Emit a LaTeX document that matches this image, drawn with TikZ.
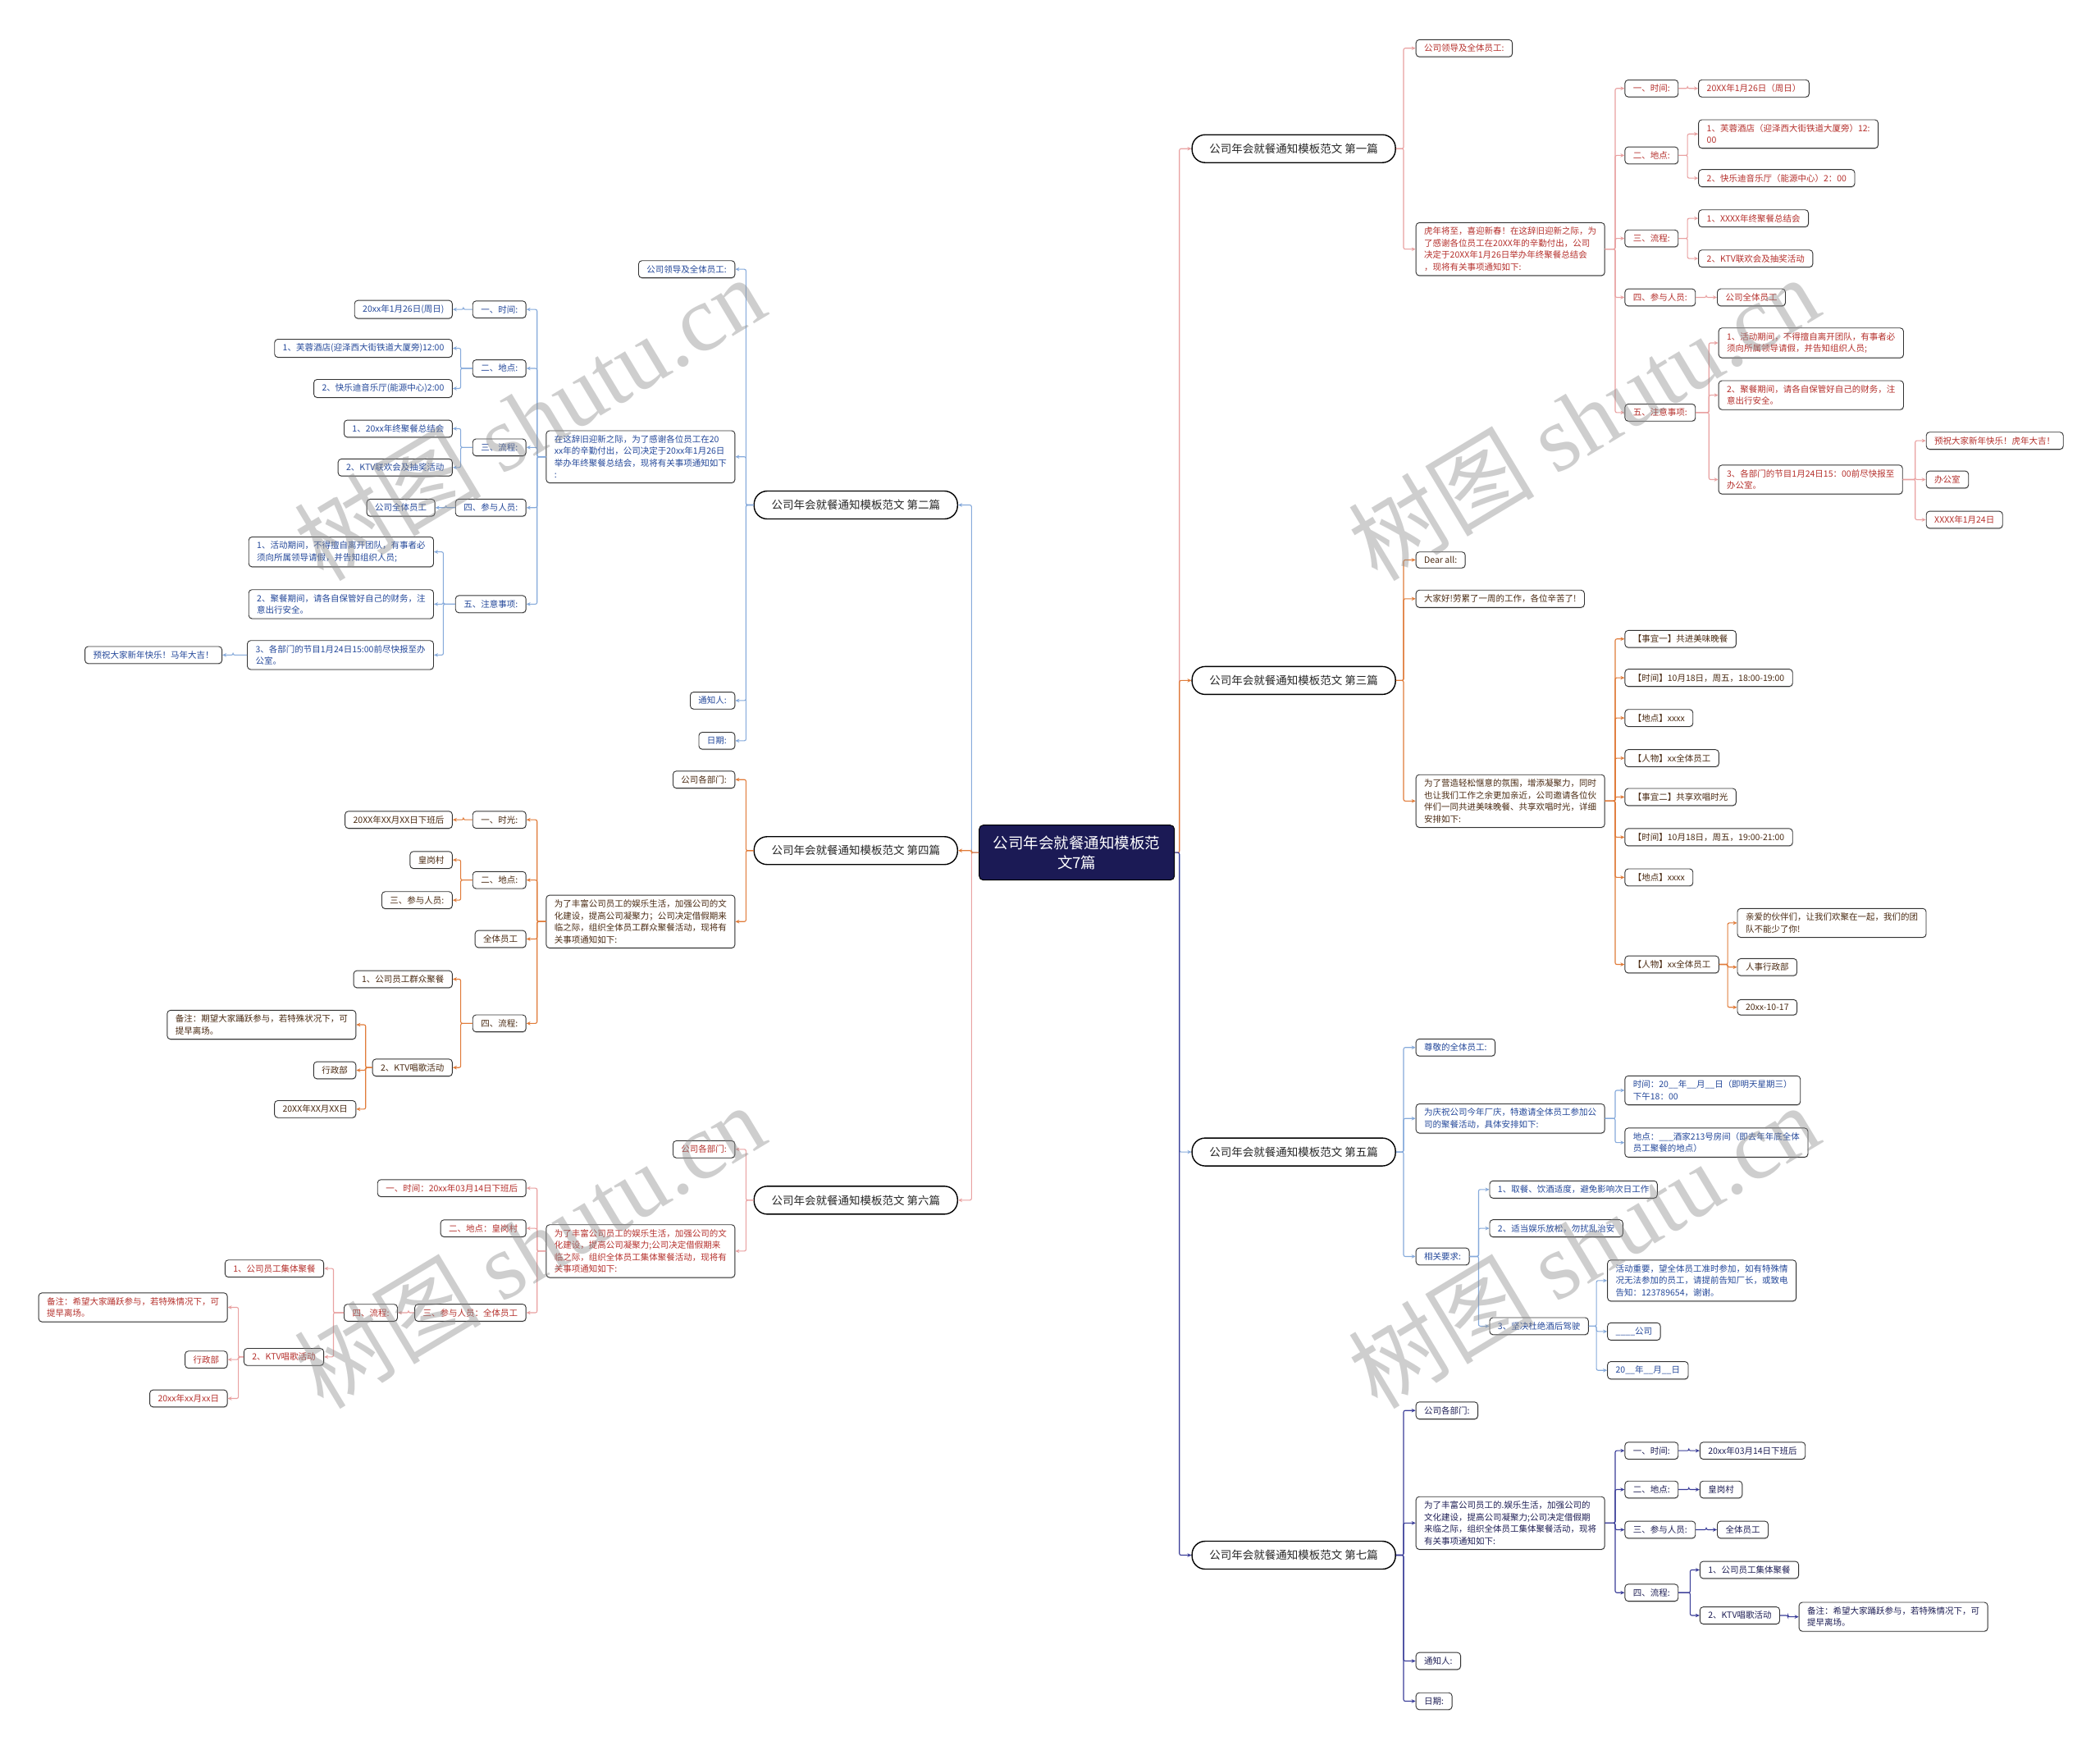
\documentclass[tikz,border=0pt]{standalone}
\usepackage{fontspec}
\setmainfont{Noto Sans CJK SC}
\newfontfamily\wmlatin{Liberation Serif}
\usetikzlibrary{arrows.meta,shadows}
\definecolor{pinkc}{HTML}{E9A1A1}
\definecolor{bluec}{HTML}{86AADB}
\definecolor{orangec}{HTML}{E07B39}
\definecolor{navyc}{HTML}{3A3D98}
\definecolor{redt}{HTML}{B5302C}
\definecolor{bluet}{HTML}{24489A}
\definecolor{brownt}{HTML}{4A2A12}
\definecolor{navyt}{HTML}{1F1F55}
\definecolor{rootfill}{HTML}{1B1A55}
\newcommand{\myconR}[4][8]{\draw[#2] (#4.west) -- ++(-#1,0) |- (#3.east);}
\newcommand{\myconL}[4][8]{\draw[#2] (#4.east) -- ++(#1,0) |- (#3.west);}
\tikzset{
  box/.style={draw=black!80, line width=0.9pt, rounded corners=4pt, fill=white,
    inner xsep=10pt, inner ysep=5.5pt, align=left,
    font=\fontsize{10.5}{14.5}\selectfont,
    drop shadow={shadow xshift=0.4pt, shadow yshift=-1.2pt, opacity=0.3}},
  nr/.style={box, text=redt},
  nb/.style={box, text=bluet},
  nbr/.style={box, text=brownt},
  nn/.style={box, text=navyt},
  lone/.style={draw=black, line width=1.4pt, rounded corners=16pt, fill=white,
    minimum width=248pt, minimum height=34pt, inner xsep=14pt,
    font=\fontsize{13.5}{16}\selectfont, text=black!85},
  rootbox/.style={draw=black, line width=1pt, rounded corners=5pt, fill=rootfill,
    minimum width=238pt, minimum height=67pt, align=center, text=white,
    font=\fontsize{18.5}{24}\selectfont},
  conn/.style={line width=1.1pt, rounded corners=2pt, {Stealth[length=5pt,width=4.5pt]}-},
  cpink/.style={conn, draw=pinkc},
  cblue/.style={conn, draw=bluec},
  corange/.style={conn, draw=orangec},
  cnavy/.style={conn, draw=navyc},
  wm/.style={rotate=31, text=black!45, opacity=0.42, font=\fontsize{114}{114}\selectfont}
}
\begin{document}
\begin{tikzpicture}[x=1.6327pt, y=-1.6327pt]
\useasboundingbox (0,0) rectangle (1568,1306);
\fill[white] (0,0) rectangle (1568,1306);

% root
\node[rootbox] (r) at (804,636.5) {公司年会就餐通知模板范\\文7篇};

% level one
\node[lone] (a1) at (966,111) {公司年会就餐通知模板范文 第一篇};
\node[lone] (a3) at (966,508) {公司年会就餐通知模板范文 第三篇};
\node[lone] (a5) at (966,860) {公司年会就餐通知模板范文 第五篇};
\node[lone] (a7) at (966,1161) {公司年会就餐通知模板范文 第七篇};
\node[lone] (b2) at (639,377) {公司年会就餐通知模板范文 第二篇};
\node[lone] (b4) at (639,635) {公司年会就餐通知模板范文 第四篇};
\node[lone] (b6) at (639,896) {公司年会就餐通知模板范文 第六篇};

% ===== branch 1 (right, pink) =====
\node[nr, anchor=west] (a1c1) at (1057,36) {公司领导及全体员工:};
\node[nr, anchor=west] (a1c2) at (1057,186) {虎年将至，喜迎新春！在这辞旧迎新之际，为\\了感谢各位员工在20XX年的辛勤付出，公司\\决定于20XX年1月26日举办年终聚餐总结会\\，现将有关事项通知如下:};
\node[nr, anchor=west] (a1d1) at (1213,66) {一、时间:};
\node[nr, anchor=west] (a1d1a) at (1268,66) {20XX年1月26日（周日）};
\node[nr, anchor=west] (a1d2) at (1213,116) {二、地点:};
\node[nr, anchor=west] (a1d2a) at (1268,100) {1、芙蓉酒店（迎泽西大街铁道大厦旁）12:\\00};
\node[nr, anchor=west] (a1d2b) at (1268,133) {2、快乐迪音乐厅（能源中心）2：00};
\node[nr, anchor=west] (a1d3) at (1213,178) {三、流程:};
\node[nr, anchor=west] (a1d3a) at (1268,163) {1、XXXX年终聚餐总结会};
\node[nr, anchor=west] (a1d3b) at (1268,193) {2、KTV联欢会及抽奖活动};
\node[nr, anchor=west] (a1d4) at (1213,222) {四、参与人员:};
\node[nr, anchor=west] (a1d4a) at (1282,222) {公司全体员工};
\node[nr, anchor=west] (a1d5) at (1213,308) {五、注意事项:};
\node[nr, anchor=west] (a1d5a) at (1283,256) {1、活动期间，不得擅自离开团队，有事者必\\须向所属领导请假，并告知组织人员;};
\node[nr, anchor=west] (a1d5b) at (1283,295) {2、聚餐期间，请各自保管好自己的财务，注\\意出行安全。};
\node[nr, anchor=west] (a1d5c) at (1283,358) {3、各部门的节目1月24日15：00前尽快报至\\办公室。};
\node[nr, anchor=west] (a1e1) at (1438,329) {预祝大家新年快乐！虎年大吉！};
\node[nr, anchor=west] (a1e2) at (1438,358) {办公室};
\node[nr, anchor=west] (a1e3) at (1438,388) {XXXX年1月24日};

% ===== branch 3 (right, orange) =====
\node[nbr, anchor=west] (a3c1) at (1057,418) {Dear all:};
\node[nbr, anchor=west] (a3c2) at (1057,447) {大家好!劳累了一周的工作，各位辛苦了!};
\node[nbr, anchor=west] (a3c3) at (1057,598) {为了营造轻松惬意的氛围，增添凝聚力，同时\\也让我们工作之余更加亲近，公司邀请各位伙\\伴们一同共进美味晚餐、共享欢唱时光，详细\\安排如下:};
\node[nbr, anchor=west] (a3d1) at (1213,477) {【事宜一】共进美味晚餐};
\node[nbr, anchor=west] (a3d2) at (1213,506) {【时间】10月18日，周五，18:00-19:00};
\node[nbr, anchor=west] (a3d3) at (1213,536) {【地点】xxxx};
\node[nbr, anchor=west] (a3d4) at (1213,566) {【人物】xx全体员工};
\node[nbr, anchor=west] (a3d5) at (1213,595) {【事宜二】共享欢唱时光};
\node[nbr, anchor=west] (a3d6) at (1213,625) {【时间】10月18日，周五，19:00-21:00};
\node[nbr, anchor=west] (a3d7) at (1213,655) {【地点】xxxx};
\node[nbr, anchor=west] (a3d8) at (1213,720) {【人物】xx全体员工};
\node[nbr, anchor=west] (a3e1) at (1297,689) {亲爱的伙伴们，让我们欢聚在一起，我们的团\\队不能少了你!};
\node[nbr, anchor=west] (a3e2) at (1297,722) {人事行政部};
\node[nbr, anchor=west] (a3e3) at (1297,752) {20xx-10-17};

% ===== branch 5 (right, light blue) =====
\node[nb, anchor=west] (a5c1) at (1057,782) {尊敬的全体员工:};
\node[nb, anchor=west] (a5c2) at (1057,835) {为庆祝公司今年厂庆，特邀请全体员工参加公\\司的聚餐活动，具体安排如下:};
\node[nb, anchor=west] (a5c3) at (1057,938) {相关要求:};
\node[nb, anchor=west] (a5d1) at (1213,814) {时间：20\_\_年\_\_月\_\_日（即明天星期三）\\下午18：00};
\node[nb, anchor=west] (a5d2) at (1213,853) {地点：\_\_\_酒家213号房间（即去年年底全体\\员工聚餐的地点）};
\node[nb, anchor=west] (a5f1) at (1112,888) {1、取餐、饮酒适度，避免影响次日工作};
\node[nb, anchor=west] (a5f2) at (1112,917) {2、适当娱乐放松，勿扰乱治安};
\node[nb, anchor=west] (a5f3) at (1112,990) {3、坚决杜绝酒后驾驶};
\node[nb, anchor=west] (a5g1) at (1200,956) {活动重要，望全体员工准时参加，如有特殊情\\况无法参加的员工，请提前告知厂长，或致电\\告知：123789654，谢谢。};
\node[nb, anchor=west] (a5g2) at (1200,994) {\_\_\_\_公司};
\node[nb, anchor=west] (a5g3) at (1200,1023) {20\_\_年\_\_月\_\_日};

% ===== branch 7 (right, navy) =====
\node[nn, anchor=west] (a7c1) at (1057,1053) {公司各部门:};
\node[nn, anchor=west] (a7c2) at (1057,1137) {为了丰富公司员工的.娱乐生活，加强公司的\\文化建设，提高公司凝聚力;公司决定借假期\\来临之际，组织全体员工集体聚餐活动，现将\\有关事项通知如下:};
\node[nn, anchor=west] (a7c3) at (1057,1240) {通知人:};
\node[nn, anchor=west] (a7c4) at (1057,1270) {日期:};
\node[nn, anchor=west] (a7d1) at (1213,1083) {一、时间:};
\node[nn, anchor=west] (a7d1a) at (1269,1083) {20xx年03月14日下班后};
\node[nn, anchor=west] (a7d2) at (1213,1112) {二、地点:};
\node[nn, anchor=west] (a7d2a) at (1269,1112) {皇岗村};
\node[nn, anchor=west] (a7d3) at (1213,1142) {三、参与人员:};
\node[nn, anchor=west] (a7d3a) at (1282,1142) {全体员工};
\node[nn, anchor=west] (a7d4) at (1213,1189) {四、流程:};
\node[nn, anchor=west] (a7d4a) at (1269,1172) {1、公司员工集体聚餐};
\node[nn, anchor=west] (a7d4b) at (1269,1206) {2、KTV唱歌活动};
\node[nn, anchor=west] (a7d4c) at (1343,1207) {备注：希望大家踊跃参与，若特殊情况下，可\\提早离场。};

% ===== branch 2 (left, light blue) =====
\node[nb, anchor=east] (b2c1) at (549,201) {公司领导及全体员工:};
\node[nb, anchor=east] (b2c2) at (549,341) {在这辞旧迎新之际，为了感谢各位员工在20\\xx年的辛勤付出，公司决定于20xx年1月26日\\举办年终聚餐总结会，现将有关事项通知如下\\:};
\node[nb, anchor=east] (b2c3) at (549,523) {通知人:};
\node[nb, anchor=east] (b2c4) at (549,553) {日期:};
\node[nb, anchor=east] (b2d1) at (393,231) {一、时间:};
\node[nb, anchor=east] (b2d1a) at (338,231) {20xx年1月26日(周日)};
\node[nb, anchor=east] (b2d2) at (393,275) {二、地点:};
\node[nb, anchor=east] (b2d2a) at (338,260) {1、芙蓉酒店(迎泽西大街铁道大厦旁)12:00};
\node[nb, anchor=east] (b2d2b) at (338,290) {2、快乐迪音乐厅(能源中心)2:00};
\node[nb, anchor=east] (b2d3) at (393,334) {三、流程:};
\node[nb, anchor=east] (b2d3a) at (338,320) {1、20xx年终聚餐总结会};
\node[nb, anchor=east] (b2d3b) at (338,349) {2、KTV联欢会及抽奖活动};
\node[nb, anchor=east] (b2d4) at (393,379) {四、参与人员:};
\node[nb, anchor=east] (b2d4a) at (325,379) {公司全体员工};
\node[nb, anchor=east] (b2d5) at (393,451) {五、注意事项:};
\node[nb, anchor=east] (b2d5a) at (324,412) {1、活动期间，不得擅自离开团队，有事者必\\须向所属领导请假，并告知组织人员;};
\node[nb, anchor=east] (b2d5b) at (324,451) {2、聚餐期间，请各自保管好自己的财务，注\\意出行安全。};
\node[nb, anchor=east] (b2d5c) at (324,489) {3、各部门的节目1月24日15:00前尽快报至办\\公室。};
\node[nb, anchor=east] (b2e1) at (166,489) {预祝大家新年快乐！马年大吉！};

% ===== branch 4 (left, orange) =====
\node[nbr, anchor=east] (b4c1) at (549,582) {公司各部门:};
\node[nbr, anchor=east] (b4c2) at (549,688) {为了丰富公司员工的娱乐生活，加强公司的文\\化建设，提高公司凝聚力；公司决定借假期来\\临之际，组织全体员工群众聚餐活动，现将有\\关事项通知如下:};
\node[nbr, anchor=east] (b4d1) at (393,612) {一、时光:};
\node[nbr, anchor=east] (b4d1a) at (338,612) {20XX年XX月XX日下班后};
\node[nbr, anchor=east] (b4d2) at (393,657) {二、地点:};
\node[nbr, anchor=east] (b4d2a) at (338,642) {皇岗村};
\node[nbr, anchor=east] (b4d2b) at (338,672) {三、参与人员:};
\node[nbr, anchor=east] (b4d3) at (393,701) {全体员工};
\node[nbr, anchor=east] (b4d4) at (393,764) {四、流程:};
\node[nbr, anchor=east] (b4d4a) at (338,731) {1、公司员工群众聚餐};
\node[nbr, anchor=east] (b4d4b) at (338,797) {2、KTV唱歌活动};
\node[nbr, anchor=east] (b4e1) at (266,765) {备注：期望大家踊跃参与，若特殊状况下，可\\提早离场。};
\node[nbr, anchor=east] (b4e2) at (266,799) {行政部};
\node[nbr, anchor=east] (b4e3) at (266,828) {20XX年XX月XX日};

% ===== branch 6 (left, pink) =====
\node[nr, anchor=east] (b6c1) at (549,858) {公司各部门:};
\node[nr, anchor=east] (b6c2) at (549,934) {为了丰富公司员工的娱乐生活，加强公司的文\\化建设，提高公司凝聚力;公司决定借假期来\\临之际，组织全体员工集体聚餐活动，现将有\\关事项通知如下:};
\node[nr, anchor=east] (b6d1) at (393,887) {一、时间：20xx年03月14日下班后};
\node[nr, anchor=east] (b6d2) at (393,917) {二、地点：皇岗村};
\node[nr, anchor=east] (b6d3) at (393,980) {三、参与人员：全体员工};
\node[nr, anchor=east] (b6d4) at (297,980) {四、流程:};
\node[nr, anchor=east] (b6d4a) at (242,947) {1、公司员工集体聚餐};
\node[nr, anchor=east] (b6d4b) at (242,1013) {2、KTV唱歌活动};
\node[nr, anchor=east] (b6e1) at (170,976) {备注：希望大家踊跃参与，若特殊情况下，可\\提早离场。};
\node[nr, anchor=east] (b6e2) at (170,1015) {行政部};
\node[nr, anchor=east] (b6e3) at (170,1044) {20xx年xx月xx日};

% ===== connectors: root =====
\myconR[9]{cpink}{r}{a1}
\myconR[9]{corange}{r}{a3}
\myconR[9]{cblue}{r}{a5}
\myconR[9]{cnavy}{r}{a7}
\myconL[10]{cblue}{r}{b2}
\myconL[10]{cpink}{r}{b6}
\myconL[10]{corange}{r}{b4}

% branch 1
\myconR[9]{cpink}{a1}{a1c1}
\myconR[9]{cpink}{a1}{a1c2}
\foreach \c in {a1d1,a1d2,a1d3,a1d4,a1d5} {\myconR[7]{cpink}{a1c2}{\c}}
\myconR{cpink}{a1d1}{a1d1a}
\myconR{cpink}{a1d2}{a1d2a}
\myconR{cpink}{a1d2}{a1d2b}
\myconR{cpink}{a1d3}{a1d3a}
\myconR{cpink}{a1d3}{a1d3b}
\myconR{cpink}{a1d4}{a1d4a}
\myconR[7]{cpink}{a1d5}{a1d5a}
\myconR[7]{cpink}{a1d5}{a1d5b}
\myconR[7]{cpink}{a1d5}{a1d5c}
\myconR{cpink}{a1d5c}{a1e1}
\myconR{cpink}{a1d5c}{a1e2}
\myconR{cpink}{a1d5c}{a1e3}

% branch 3
\myconR[9]{corange}{a3}{a3c1}
\myconR[9]{corange}{a3}{a3c2}
\myconR[9]{corange}{a3}{a3c3}
\foreach \c in {a3d1,a3d2,a3d3,a3d4,a3d5,a3d6,a3d7,a3d8} {\myconR[7]{corange}{a3c3}{\c}}
\myconR[7]{corange}{a3d8}{a3e1}
\myconR[7]{corange}{a3d8}{a3e2}
\myconR[7]{corange}{a3d8}{a3e3}

% branch 5
\myconR[9]{cblue}{a5}{a5c1}
\myconR[9]{cblue}{a5}{a5c2}
\myconR[9]{cblue}{a5}{a5c3}
\myconR[7]{cblue}{a5c2}{a5d1}
\myconR[7]{cblue}{a5c2}{a5d2}
\myconR{cblue}{a5c3}{a5f1}
\myconR{cblue}{a5c3}{a5f2}
\myconR{cblue}{a5c3}{a5f3}
\myconR{cblue}{a5f3}{a5g1}
\myconR{cblue}{a5f3}{a5g2}
\myconR{cblue}{a5f3}{a5g3}

% branch 7
\myconR[9]{cnavy}{a7}{a7c1}
\myconR[9]{cnavy}{a7}{a7c2}
\myconR[9]{cnavy}{a7}{a7c3}
\myconR[9]{cnavy}{a7}{a7c4}
\foreach \c in {a7d1,a7d2,a7d3,a7d4} {\myconR[7]{cnavy}{a7c2}{\c}}
\myconR{cnavy}{a7d1}{a7d1a}
\myconR{cnavy}{a7d2}{a7d2a}
\myconR{cnavy}{a7d3}{a7d3a}
\myconR[7]{cnavy}{a7d4}{a7d4a}
\myconR[7]{cnavy}{a7d4}{a7d4b}
\myconR{cnavy}{a7d4b}{a7d4c}

% branch 2
\foreach \c in {b2c1,b2c2,b2c3,b2c4} {\myconL{cblue}{b2}{\c}}
\foreach \c in {b2d1,b2d2,b2d3,b2d4,b2d5} {\myconL{cblue}{b2c2}{\c}}
\myconL{cblue}{b2d1}{b2d1a}
\myconL[6]{cblue}{b2d2}{b2d2a}
\myconL[6]{cblue}{b2d2}{b2d2b}
\myconL[6]{cblue}{b2d3}{b2d3a}
\myconL[6]{cblue}{b2d3}{b2d3b}
\myconL{cblue}{b2d4}{b2d4a}
\myconL[7]{cblue}{b2d5}{b2d5a}
\myconL[7]{cblue}{b2d5}{b2d5b}
\myconL[7]{cblue}{b2d5}{b2d5c}
\myconL{cblue}{b2d5c}{b2e1}

% branch 4
\myconL{corange}{b4}{b4c1}
\myconL{corange}{b4}{b4c2}
\foreach \c in {b4d1,b4d2,b4d3,b4d4} {\myconL{corange}{b4c2}{\c}}
\myconL{corange}{b4d1}{b4d1a}
\myconL[6]{corange}{b4d2}{b4d2a}
\myconL[6]{corange}{b4d2}{b4d2b}
\myconL[6]{corange}{b4d4}{b4d4a}
\myconL[6]{corange}{b4d4}{b4d4b}
\myconL[7]{corange}{b4d4b}{b4e1}
\myconL[7]{corange}{b4d4b}{b4e2}
\myconL[7]{corange}{b4d4b}{b4e3}

% branch 6
\myconL{cpink}{b6}{b6c1}
\myconL{cpink}{b6}{b6c2}
\foreach \c in {b6d1,b6d2,b6d3} {\myconL{cpink}{b6c2}{\c}}
\myconL{cpink}{b6d3}{b6d4}
\myconL[7]{cpink}{b6d4}{b6d4a}
\myconL[7]{cpink}{b6d4}{b6d4b}
\myconL{cpink}{b6d4b}{b6e1}
\myconL{cpink}{b6d4b}{b6e2}
\myconL{cpink}{b6d4b}{b6e3}

% watermarks
\node[wm] (w1) at (395,312) {树图 {\wmlatin shutu.cn}};
\node[wm] (w2) at (1182,312) {树图 {\wmlatin shutu.cn}};
\node[wm] (w3) at (395,930) {树图 {\wmlatin shutu.cn}};
\node[wm] (w4) at (1182,930) {树图 {\wmlatin shutu.cn}};
\end{tikzpicture}
\end{document}
